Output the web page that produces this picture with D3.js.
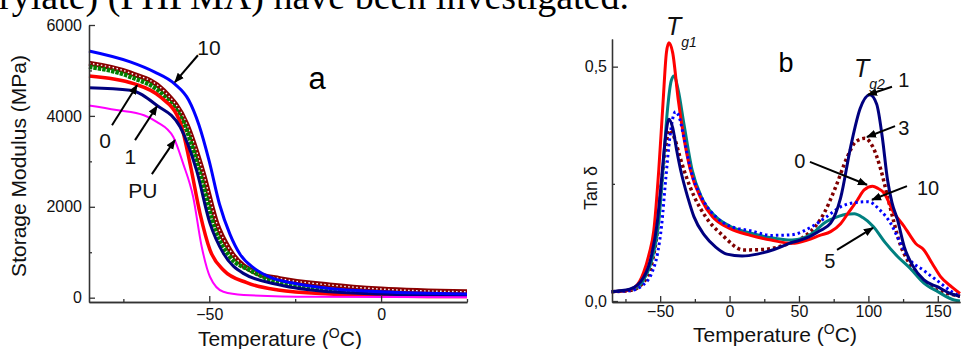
<!DOCTYPE html>
<html>
<head>
<meta charset="utf-8">
<script src="https://cdn.jsdelivr.net/npm/d3@7"></script>
<style>
  body { margin: 0; background: #fff; }
  svg { display: block; font-family: "Liberation Sans", Arial, sans-serif; }
</style>
</head>
<body>
<svg id="chart" width="961" height="349"></svg>
<script>
// ---- panel a: storage modulus (MPa) vs temperature (°C) ----
const modulus10 = [[-85,5430],[-73,5190],[-66,4970],[-60,4700],[-56,4350],[-53,3800],[-50,3000],[-47,2050],[-44,1400],[-41,950],[-37,650],[-32,440],[-25,310],[-15,200],[0,130],[25,80]];
const modulus3 = [[-85,5160],[-73,4945],[-63.4,4565],[-56.6,3830],[-51.7,2730],[-47.8,1635],[-44,1050],[-36.2,540],[-29.5,420],[-15,280],[0,190],[25,130]];
const modulus5 = [[-85,5080],[-73,4860],[-63.4,4455],[-56.6,3690],[-52.2,2590],[-48.3,1490],[-44,900],[-38,600],[-30,330],[-15,160],[5,70],[25,40]];
const modulus0 = [[-85,4880],[-72,4710],[-64.3,4420],[-58.5,3870],[-55.6,2950],[-52.7,1855],[-49.8,1050],[-45.9,610],[-39.1,330],[-30,170],[-15,80],[0,45],[25,25]];
const modulus1 = [[-85,4620],[-73,4565],[-65.3,4235],[-58.5,3760],[-53.7,2800],[-49.8,1635],[-45.9,975],[-40.1,535],[-29.4,280],[-15,130],[0,80],[25,50]];
const modulusPU = [[-85,4230],[-77,4130],[-69,4015],[-65.3,3870],[-60.5,3540],[-57.6,2950],[-54.7,2220],[-52.2,1120],[-49.8,460],[-45.9,130],[-40,60],[-20,20],[25,10]];

// ---- panel b: tan delta vs temperature (°C) ----
const tan0 = [[-85,0.02],[-75,0.022],[-68,0.03],[-62,0.06],[-58,0.1],[-54.6,0.15],[-51,0.28],[-48,0.42],[-45.5,0.53],[-43.7,0.551],[-41,0.53],[-37,0.43],[-33,0.35],[-28.3,0.28],[-20,0.215],[-12.4,0.18],[0,0.155],[15,0.14],[30,0.13],[45,0.123],[56,0.13],[65,0.14],[72.8,0.148],[80,0.165],[86,0.19],[92,0.215],[97,0.237],[103,0.245],[107,0.24],[111.4,0.23],[118,0.19],[125.8,0.159],[130,0.14],[134,0.123],[140,0.109],[146,0.08],[152,0.052],[160,0.03],[166,0.016]];
const tan5 = [[-85,0.02],[-75,0.022],[-68,0.027],[-62,0.045],[-55,0.1],[-51,0.17],[-48,0.28],[-45,0.4],[-42,0.47],[-40.1,0.48],[-37,0.45],[-33,0.38],[-27,0.28],[-20,0.22],[-10,0.18],[0,0.16],[15,0.145],[30,0.135],[45,0.13],[60,0.145],[68,0.166],[78,0.18],[84,0.185],[89.8,0.186],[96,0.178],[103.5,0.159],[112,0.125],[121,0.095],[130,0.07],[140,0.038],[150,0.02],[161.8,0.002],[166,0]];
const tan1 = [[-85,0.02],[-72,0.025],[-62,0.05],[-56,0.1],[-52,0.17],[-49,0.26],[-46.5,0.34],[-43.7,0.388],[-41,0.37],[-38,0.32],[-35.3,0.28],[-30,0.22],[-25.7,0.18],[-18,0.14],[-10,0.115],[-2,0.1],[9,0.096],[20,0.1],[32,0.11],[44,0.124],[56,0.135],[65,0.15],[72.8,0.166],[80,0.22],[87.3,0.33],[94,0.41],[101,0.44],[106,0.42],[110,0.35],[113.8,0.258],[117,0.21],[121,0.173],[125.8,0.116],[132,0.075],[140,0.045],[150,0.03],[160,0.015],[166,0.01]];
const tan10 = [[-85,0.02],[-72,0.022],[-62,0.035],[-56,0.06],[-52,0.1],[-49,0.16],[-46,0.26],[-43,0.35],[-40.5,0.395],[-39,0.404],[-36,0.39],[-33,0.35],[-28,0.28],[-20,0.22],[-10,0.18],[0,0.16],[15,0.15],[30,0.14],[44,0.141],[60,0.16],[70,0.18],[80,0.201],[90,0.21],[99.8,0.212],[108,0.195],[116,0.166],[122,0.13],[128,0.095],[140,0.065],[152,0.038],[160,0.02],[166,0.01]];
const tan3 = [[-85,0.02],[-72,0.022],[-62,0.04],[-56,0.08],[-52,0.15],[-49,0.25],[-46,0.33],[-43,0.365],[-40,0.35],[-36,0.31],[-32.9,0.28],[-25,0.22],[-17.3,0.18],[-5,0.14],[10,0.109],[25,0.11],[40,0.12],[55,0.14],[62,0.16],[68,0.187],[76,0.24],[84.9,0.308],[91,0.34],[97.4,0.347],[103,0.33],[109,0.28],[114,0.22],[118.6,0.166],[123,0.12],[128.2,0.087],[136,0.055],[145,0.03],[155,0.018],[166,0.01]];

// tick values
const aMajorX = [-50, 0], aMinorX = [-75, -25, 25];
const aMajorY = [0, 2000, 4000, 6000], aMinorY = [1000, 3000, 5000];
const bMajorX = [-50, 0, 50, 100, 150], bMinorX = [-75, -25, 25, 75, 125];
const bMajorY = [0, 0.5], bMinorY = [0.25];

// labels with arrows, in data units: [text, textT, textV, fromT, fromV, toT, toV]
const labelsA = [
  ["10", -50.1, 5510, -53.3, 5334, -60, 4741],
  ["0", -80.3, 3466, -78.3, 3796, -71, 4675],
  ["1", -73, 3114, -71.6, 3466, -65.2, 4213],
  ["PU", -69.3, 2367, -66.7, 2719, -60, 3466]
];
const labelsB = [
  ["1", 125.5, 0.471, 117, 0.457, 99.7, 0.44],
  ["3", 125.5, 0.37, 119.2, 0.373, 99, 0.35],
  ["0", 50.6, 0.3, 57.9, 0.297, 99, 0.248],
  ["10", 143, 0.242, 127.8, 0.245, 102.6, 0.216],
  ["5", 72.3, 0.085, 77.4, 0.109, 103.3, 0.156]
];

const svg = d3.select('#chart');

svg.append('defs').append('marker')
  .attr('id', 'arrow')
  .attr('viewBox', '0 0 10 10')
  .attr('refX', 9).attr('refY', 5)
  .attr('markerWidth', 5).attr('markerHeight', 5)
  .attr('orient', 'auto')
  .append('path').attr('d', 'M0,1 L10,5 L0,9 Z').attr('fill', '#000');

// text of the page above the figure
svg.append('text')
  .attr('x', -1).attr('y', 9)
  .attr('font-family', '"Liberation Serif", "Times New Roman", serif')
  .attr('font-size', 38)
  .text('rylate) (PHPMA) have been investigated.');

const comma = d => d3.format('.1f')(d).replace('.', ',');

function drawAxes(g, x, y, o) {
  const h = y.range()[0];
  g.append('g').attr('transform', `translate(0,${h})`)
    .call(d3.axisBottom(x).tickValues(o.minorX).tickSize(-3).tickFormat('').tickSizeOuter(0));
  g.append('g').attr('transform', `translate(0,${h})`)
    .call(d3.axisBottom(x).tickValues(o.majorX).tickSize(-6).tickPadding(o.padX).tickSizeOuter(0).tickFormat(o.fmtX));
  g.append('g').attr('transform', `translate(${x.range()[0]},0)`)
    .call(d3.axisLeft(y).tickValues(o.minorY).tickSize(-3).tickFormat('').tickSizeOuter(0));
  g.append('g').attr('transform', `translate(${x.range()[0]},0)`)
    .call(d3.axisLeft(y).tickValues(o.majorY).tickSize(-6).tickPadding(o.padY).tickSizeOuter(0).tickFormat(o.fmtY));
  g.selectAll('.domain, .tick line').attr('stroke', '#333').attr('stroke-width', 1.3);
  g.selectAll('.tick text').attr('font-size', 16).attr('fill', '#111')
    .attr('font-family', '"Liberation Sans", Arial, sans-serif');
}

function drawLabels(g, x, y, labels, size) {
  labels.forEach(l => {
    g.append('line')
      .attr('x1', x(l[3])).attr('y1', y(l[4]))
      .attr('x2', x(l[5])).attr('y2', y(l[6]))
      .attr('stroke', '#000').attr('stroke-width', 2)
      .attr('marker-end', 'url(#arrow)');
    g.append('text')
      .attr('x', x(l[1])).attr('y', y(l[2]))
      .attr('text-anchor', 'middle').attr('dy', '0.36em')
      .attr('font-size', size).attr('fill', '#111')
      .text(l[0]);
  });
}

// ---------- panel a ----------
const ax = d3.scaleLinear().domain([-85, 25]).range([89, 467]);
const ay = d3.scaleLinear().domain([-95, 6000]).range([302, 25]);
const ga = svg.append('g');
const lineA = d3.line().x(d => ax(d[0])).y(d => ay(d[1])).curve(d3.curveMonotoneX);

ga.append('path').datum(modulus3).attr('d', lineA)
  .attr('fill', 'none').attr('stroke', '#8b0000').attr('stroke-width', 5);
ga.append('path').datum(modulus3).attr('d', lineA)
  .attr('fill', 'none').attr('stroke', '#fff').attr('stroke-width', 1.4).attr('stroke-dasharray', '1.5,2.5');
ga.append('path').datum(modulus5).attr('d', lineA)
  .attr('fill', 'none').attr('stroke', '#008000').attr('stroke-width', 4.5).attr('stroke-dasharray', '3.5,1');
ga.append('path').datum(modulus0).attr('d', lineA)
  .attr('fill', 'none').attr('stroke', '#ff0000').attr('stroke-width', 3.5);
ga.append('path').datum(modulus1).attr('d', lineA)
  .attr('fill', 'none').attr('stroke', '#00007f').attr('stroke-width', 3);
ga.append('path').datum(modulusPU).attr('d', lineA)
  .attr('fill', 'none').attr('stroke', '#ff00ff').attr('stroke-width', 2);
ga.append('path').datum(modulus10).attr('d', lineA)
  .attr('fill', 'none').attr('stroke', '#0000ff').attr('stroke-width', 3);

drawAxes(ga, ax, ay, {
  minorX: aMinorX, majorX: aMajorX, minorY: aMinorY, majorY: aMajorY,
  padX: 7, padY: 7, fmtX: d3.format('d'), fmtY: d3.format('d')
});
drawLabels(ga, ax, ay, labelsA, 21);

ga.append('text').attr('x', 317).attr('y', 78).attr('dy', '0.36em')
  .attr('text-anchor', 'middle').attr('font-size', 31).text('a');
ga.append('text').attr('transform', 'translate(26,166) rotate(-90)')
  .attr('text-anchor', 'middle').attr('font-size', 21).attr('fill', '#111')
  .text('Storage Modulus (MPa)');
const tA = ga.append('text').attr('x', 280).attr('y', 346)
  .attr('text-anchor', 'middle').attr('font-size', 21).attr('fill', '#111');
tA.append('tspan').text('Temperature (');
tA.append('tspan').attr('font-size', 14).attr('dy', -8).text('O');
tA.append('tspan').attr('dy', 8).text('C)');

// ---------- panel b ----------
const bx = d3.scaleLinear().domain([-84.7, 166]).range([612, 960]);
const by = d3.scaleLinear().domain([-0.0021, 0.559]).range([302, 39]);
const gb = svg.append('g');
const lineB = d3.line().x(d => bx(d[0])).y(d => by(d[1])).curve(d3.curveMonotoneX);

gb.append('path').datum(tan3).attr('d', lineB)
  .attr('fill', 'none').attr('stroke', '#800000').attr('stroke-width', 3.5).attr('stroke-dasharray', '3,3');
gb.append('path').datum(tan5).attr('d', lineB)
  .attr('fill', 'none').attr('stroke', '#008080').attr('stroke-width', 3);
gb.append('path').datum(tan0).attr('d', lineB)
  .attr('fill', 'none').attr('stroke', '#ff0000').attr('stroke-width', 3);
gb.append('path').datum(tan10).attr('d', lineB)
  .attr('fill', 'none').attr('stroke', '#0000ff').attr('stroke-width', 3).attr('stroke-dasharray', '2.5,3');
gb.append('path').datum(tan1).attr('d', lineB)
  .attr('fill', 'none').attr('stroke', '#00007f').attr('stroke-width', 3);

drawAxes(gb, bx, by, {
  minorX: bMinorX, majorX: bMajorX, minorY: bMinorY, majorY: bMajorY,
  padX: 4, padY: 5, fmtX: d3.format('d'), fmtY: comma
});
drawLabels(gb, bx, by, labelsB, 20);

gb.append('text').attr('x', 786).attr('y', 62).attr('dy', '0.36em')
  .attr('text-anchor', 'middle').attr('font-size', 27).text('b');

const tg1 = gb.append('text').attr('x', 666).attr('y', 35).attr('font-style', 'italic').attr('fill', '#111');
tg1.append('tspan').attr('font-size', 25).text('T');
tg1.append('tspan').attr('font-size', 14).attr('dy', 12).text('g1');
const tg2 = gb.append('text').attr('x', 854).attr('y', 77).attr('font-style', 'italic').attr('fill', '#111');
tg2.append('tspan').attr('font-size', 25).text('T');
tg2.append('tspan').attr('font-size', 14).attr('dy', 12).text('g2');

gb.append('text').attr('transform', 'translate(597,188) rotate(-90)')
  .attr('text-anchor', 'middle').attr('font-size', 18).attr('fill', '#111')
  .text('Tan δ');
const tB = gb.append('text').attr('x', 775).attr('y', 342)
  .attr('text-anchor', 'middle').attr('font-size', 21).attr('fill', '#111');
tB.append('tspan').text('Temperature (');
tB.append('tspan').attr('font-size', 14).attr('dy', -8).text('O');
tB.append('tspan').attr('dy', 8).text('C)');
</script>
</body>
</html>
